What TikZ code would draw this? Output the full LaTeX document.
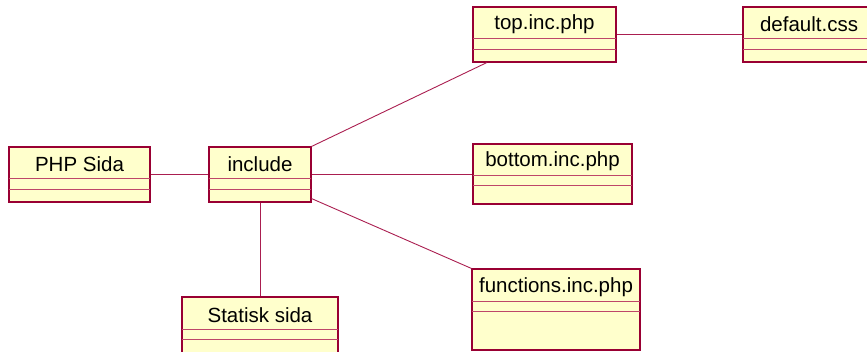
\documentclass[tikz,border=0pt]{standalone}
\usepackage{fontspec}
\setmainfont{Liberation Sans}
\usetikzlibrary{calc}

\definecolor{umlfill}{RGB}{255,255,204}
\definecolor{umlborder}{RGB}{153,0,51}
\definecolor{umldivider}{RGB}{190,70,105}
\definecolor{umlwire}{RGB}{170,30,80}

\tikzset{
  classbox/.style={draw=umlborder, fill=umlfill, line width=1.1pt, inner sep=0pt, rectangle},
  classname/.style={inner sep=0pt, font=\fontsize{20.5}{22}\selectfont},
  divider/.style={draw=umldivider, line width=0.9pt},
  wire/.style={draw=umlwire, line width=0.9pt}
}

% \umlclass{name}{x1}{y1}{x2}{y2}{first divider y}{second divider y}{label}
\newcommand{\umlclass}[8]{%
  \node[classbox, minimum width={(#4-#2)*1pt}, minimum height={(#5-#3)*1pt}]
    (#1) at ({(#2+#4)/2},{(#3+#5)/2}) {};
  \draw[divider] (#2,#6) -- (#4,#6);
  \draw[divider] (#2,#7) -- (#4,#7);
  \node[classname] (#1-label) at ({(#2+#4)/2},{(#3+#6)/2+2}) {#8};
}

\begin{document}
\begin{tikzpicture}[x=1pt, y=-1pt]
  \useasboundingbox (0,0) rectangle (867,351);
  \clip (0,0) rectangle (867,351);

  \umlclass{php}{9}{147}{150}{202}{178}{189}{PHP Sida}
  \umlclass{inc}{209}{147}{311}{202}{178}{189}{include}
  \umlclass{top}{473}{7}{616}{62}{38}{49}{top.inc.php}
  \umlclass{css}{743}{7}{875}{62}{38}{49}{default.css}
  \umlclass{bot}{473}{144}{632}{204}{175}{185}{bottom.inc.php}
  \umlclass{fun}{472}{269}{640}{350}{301}{311}{functions.inc.php}
  \umlclass{stat}{182}{297}{338}{362}{329}{339}{Statisk sida}

  % associations
  \draw[wire] (php.east) -- (inc.west);
  \draw[wire] (inc.north east) -- ($(top.south west)!0.1!(top.south east)$);
  \draw[wire] (inc.east) -- (inc.east -| bot.west);
  \draw[wire] ([yshift=4pt]inc.south east) -- (fun.north west);
  \draw[wire] (inc.south) -- (inc.south |- stat.north);
  \draw[wire] (top.east) -- (top.east -| css.west);
\end{tikzpicture}
\end{document}
